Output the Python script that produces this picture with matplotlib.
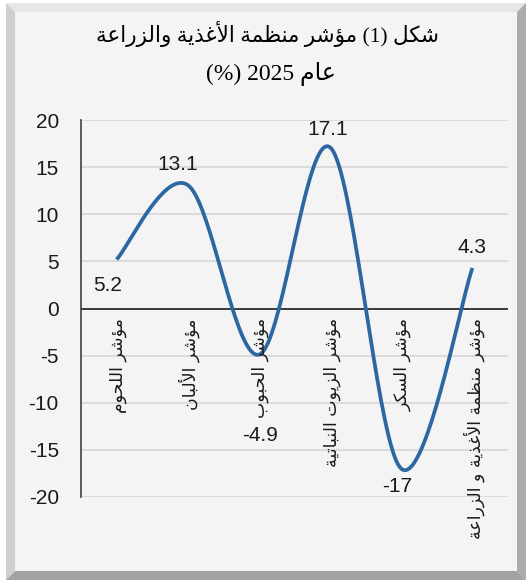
import numpy as np
import matplotlib
matplotlib.use("Agg")
import matplotlib.pyplot as plt
from matplotlib.patches import Polygon, Rectangle

# data
categories = ["مؤشر اللحوم", "مؤشر الألبان", "مؤشر الحبوب",
              "مؤشر الزيوت النباتية", "مؤشر السكر", "مؤشر منظمة الأغذية و الزراعة"]
values = [5.2, 13.1, -4.9, 17.1, -17, 4.3]
label_text = ["5.2", "13.1", "-4.9", "17.1", "-17", "4.3"]
# data label offsets (points)
label_offsets = [(-6.5, -19), (-7, 14.5), (0.7, -58), (-1.4, 13), (-3, -13), (0, 14.5)]
yticks = [-20, -15, -10, -5, 0, 5, 10, 15, 20]
title_line1 = "شكل (1) مؤشر منظمة الأغذية والزراعة"
title_line2 = "عام 2025 (%)"

# --- minimal arabic shaping (matplotlib has no bidi / shaping) ---
FORMS = {
    'ا': ('\uFE8D', '\uFE8E', None, None),
    'أ': ('\uFE83', '\uFE84', None, None),
    'ؤ': ('\uFE85', '\uFE86', None, None),
    'ب': ('\uFE8F', '\uFE90', '\uFE91', '\uFE92'),
    'ة': ('\uFE93', '\uFE94', None, None),
    'ت': ('\uFE95', '\uFE96', '\uFE97', '\uFE98'),
    'ح': ('\uFEA1', '\uFEA2', '\uFEA3', '\uFEA4'),
    'ذ': ('\uFEAB', '\uFEAC', None, None),
    'ر': ('\uFEAD', '\uFEAE', None, None),
    'ز': ('\uFEAF', '\uFEB0', None, None),
    'س': ('\uFEB1', '\uFEB2', '\uFEB3', '\uFEB4'),
    'ش': ('\uFEB5', '\uFEB6', '\uFEB7', '\uFEB8'),
    'ظ': ('\uFEC5', '\uFEC6', '\uFEC7', '\uFEC8'),
    'ع': ('\uFEC9', '\uFECA', '\uFECB', '\uFECC'),
    'غ': ('\uFECD', '\uFECE', '\uFECF', '\uFED0'),
    'ك': ('\uFED9', '\uFEDA', '\uFEDB', '\uFEDC'),
    'ل': ('\uFEDD', '\uFEDE', '\uFEDF', '\uFEE0'),
    'م': ('\uFEE1', '\uFEE2', '\uFEE3', '\uFEE4'),
    'ن': ('\uFEE5', '\uFEE6', '\uFEE7', '\uFEE8'),
    'و': ('\uFEED', '\uFEEE', None, None),
    'ي': ('\uFEF1', '\uFEF2', '\uFEF3', '\uFEF4'),
    'LA': ('\uFEFB', '\uFEFC', None, None),
    'LAH': ('\uFEF7', '\uFEF8', None, None),
}


def shape_word(word):
    units = []
    i = 0
    while i < len(word):
        if word[i] == 'ل' and i + 1 < len(word) and word[i + 1] in ('ا', 'أ'):
            units.append('LA' if word[i + 1] == 'ا' else 'LAH')
            i += 2
        else:
            units.append(word[i])
            i += 1
    out = []
    for k, u in enumerate(units):
        if u not in FORMS:
            out.append(u)
            continue
        f = FORMS[u]
        prev = units[k - 1] if k > 0 else None
        nxt = units[k + 1] if k + 1 < len(units) else None
        jp = prev in FORMS and FORMS[prev][2] is not None
        jn = f[2] is not None and nxt in FORMS
        if jp and jn:
            out.append(f[3])
        elif jp:
            out.append(f[1])
        elif jn:
            out.append(f[2])
        else:
            out.append(f[0])
    return ''.join(out)[::-1]


def ar(text):
    words = text.split(' ')
    vis = []
    for w in reversed(words):
        if any(c in FORMS for c in w):
            vis.append(shape_word(w))
        else:
            vis.append(w)
    return ' '.join(vis)


def smooth(xs, ys, n=40):
    # excel-like smoothed line: cubic bezier with catmull-rom control points
    pts = np.column_stack([xs, ys])
    outx, outy = [], []
    for i in range(len(pts) - 1):
        p0 = pts[max(i - 1, 0)]
        p1 = pts[i]
        p2 = pts[i + 1]
        p3 = pts[min(i + 2, len(pts) - 1)]
        c1 = p1 + (p2 - p0) / 6
        c2 = p2 - (p3 - p1) / 6
        t = np.linspace(0, 1, n)[:, None]
        b = ((1 - t) ** 3) * p1 + 3 * ((1 - t) ** 2) * t * c1 + 3 * (1 - t) * t ** 2 * c2 + t ** 3 * p2
        outx.extend(b[:, 0])
        outy.extend(b[:, 1])
    return np.array(outx), np.array(outy)


W, H = 528, 583
fig = plt.figure(figsize=(W / 100, H / 100), dpi=100, facecolor='white')


def px(x, y):
    return (x / W, 1 - y / H)


# beveled frame
x0, y0, x1, y1, b = 6, 3, 526, 580, 9
bevels = [
    ([(x0, y0), (x1, y0), (x1 - b, y0 + b), (x0 + b, y0 + b)], '#e6e6e6'),
    ([(x0, y0), (x0 + b, y0 + b), (x0 + b, y1 - b), (x0, y1)], '#cfcfcf'),
    ([(x1, y0), (x1, y1), (x1 - b, y1 - b), (x1 - b, y0 + b)], '#ababab'),
    ([(x0, y1), (x1, y1), (x1 - b, y1 - b), (x0 + b, y1 - b)], '#a3a3a3'),
]
for poly, col in bevels:
    fig.patches.append(Polygon([px(*p) for p in poly], closed=True, transform=fig.transFigure,
                               facecolor=col, edgecolor='none', zorder=-10))
fig.patches.append(Rectangle(px(x0 + b, y1 - b), (x1 - x0 - 2 * b) / W, (y1 - y0 - 2 * b) / H,
                             transform=fig.transFigure, facecolor='#f4f4f4', edgecolor='none', zorder=-10))

# title
title_font = ['Liberation Serif', 'DejaVu Sans']
fig.text(*px(267, 34), ar(title_line1), ha='center', va='center', fontsize=15.5, family=title_font)
fig.text(*px(271, 74), ar(title_line2), ha='center', va='center', fontsize=17, family=title_font)

ax = fig.add_axes([81 / W, 1 - 497 / H, 427 / W, 377 / H])
ax.set_facecolor('none')
ax.set_xlim(0, len(values))
ax.set_ylim(-20, 20)
ax.set_yticks(yticks)
ax.set_yticklabels([str(t) for t in yticks], fontsize=15, family='Liberation Sans', color='#1a1a1a')
ax.tick_params(axis='y', length=0, pad=16)
ax.set_xticks([])
for s in ['top', 'right', 'bottom']:
    ax.spines[s].set_visible(False)
ax.spines['left'].set_color('#404040')
ax.spines['left'].set_linewidth(1.2)
for t in yticks:
    if t != 0:
        ax.axhline(t, color='#d9d9d9', lw=1.3, zorder=1)
ax.axhline(0, color='#1a1a1a', lw=1.2, zorder=2)

xs = np.arange(len(values)) + 0.5
sx, sy = smooth(xs, np.array(values, dtype=float))
ax.plot(sx, sy, color='#2c67a2', lw=2.7, solid_capstyle='butt', zorder=3)

for x, v, txt, off in zip(xs, values, label_text, label_offsets):
    ax.annotate(txt, (x, v), xytext=off, textcoords='offset points', ha='center', va='center',
                fontsize=15, family='Liberation Sans', color='#1a1a1a', zorder=4)

for x, cat in zip(xs, categories):
    ax.annotate(ar(cat), (x + 0.02, 0), xytext=(0, -7), textcoords='offset points', rotation=90,
                ha='center', va='top', fontsize=12.5, family='DejaVu Sans', color='#1a1a1a',
                annotation_clip=False, zorder=4)

fig.savefig('out.png', dpi=100, facecolor='white')
